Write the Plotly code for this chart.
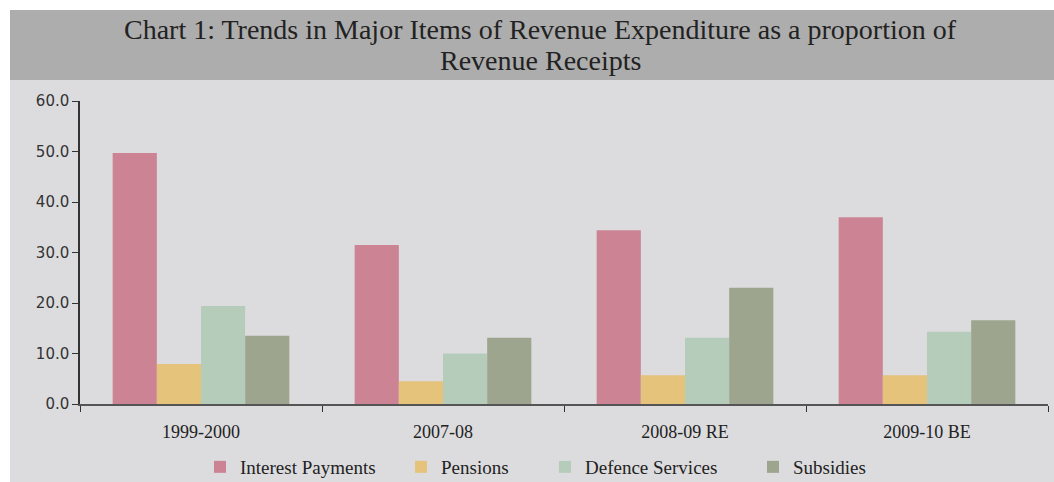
import plotly.graph_objects as go

categories = ["1999-2000", "2007-08", "2008-09 RE", "2009-10 BE"]
interest = [49.7, 31.5, 34.4, 37.0]
pensions = [7.9, 4.5, 5.7, 5.7]
defence = [19.4, 10.0, 13.1, 14.3]
subsidies = [13.5, 13.1, 23.0, 16.6]
series_names = ["Interest Payments", "Pensions", "Defence Services", "Subsidies"]
colors = ["#cc8494", "#e5c37b", "#b5ccbb", "#9ea58e"]
y_ticks = [0, 10, 20, 30, 40, 50, 60]
title_lines = ["Chart 1: Trends in Major Items of Revenue Expenditure as a proportion of",
               "Revenue Receipts"]

serif = "Liberation Serif, Times New Roman, serif"
sans = "DejaVu Sans, Verdana, sans-serif"

L, R, T, B = 80, 6, 101, 78
W, H = 1054, 482
pw = W - L - R
ph = H - T - B

def px(x):
    return (x - L) / pw

def py(y):
    return (H - B - y) / ph

legend_ids = ["legend", "legend2", "legend3", "legend4"]
legend_text_x = [240, 441, 585, 793]

fig = go.Figure()
for name, vals, c, lid in zip(series_names, [interest, pensions, defence, subsidies], colors, legend_ids):
    fig.add_trace(go.Bar(x=categories, y=vals, name=name, legend=lid, showlegend=True,
                         marker=dict(color=c, line=dict(width=0))))

shapes = [
    dict(type="rect", xref="paper", yref="paper", x0=px(10), x1=px(1060), y0=py(492), y1=py(10),
         fillcolor="#dcdcde", line=dict(width=0), layer="below"),
    dict(type="rect", xref="paper", yref="paper", x0=px(10), x1=px(1060), y0=py(80), y1=py(10),
         fillcolor="#adadad", line=dict(width=0), layer="below"),
]

annotations = [
    dict(text=title_lines[0], xref="paper", yref="paper", x=px(540), y=py(30),
         xanchor="center", yanchor="middle", showarrow=False,
         font=dict(family=serif, size=28, color="#222222")),
    dict(text=title_lines[1], xref="paper", yref="paper", x=px(540), y=py(61),
         xanchor="center", yanchor="middle", showarrow=False,
         font=dict(family=serif, size=28, color="#222222")),
]

legends = {}
for lid, tx in zip(legend_ids, legend_text_x):
    legends[lid] = dict(
        orientation="h", xref="container", yref="container",
        x=(tx - 40) / W, xanchor="left", y=1 - 467 / H, yanchor="middle",
        font=dict(family=serif, size=19, color="#222222"),
        bgcolor="rgba(0,0,0,0)", borderwidth=0,
    )

fig.update_layout(
    width=W, height=H, autosize=False, showlegend=True,
    margin=dict(l=L, r=R, t=T, b=B, autoexpand=False),
    paper_bgcolor="white",
    plot_bgcolor="rgba(0,0,0,0)",
    shapes=shapes,
    annotations=annotations,
    barmode="group",
    bargap=0.27,
    bargroupgap=0,
    xaxis=dict(
        type="category", automargin=False,
        showgrid=False, showline=True, linecolor="#555555", linewidth=2,
        ticks="outside", tickson="boundaries", ticklen=6, tickcolor="#333333",
        tickfont=dict(family=serif, size=18, color="#222222"),
        ticklabelstandoff=10,
    ),
    yaxis=dict(
        range=[0, 60], tickvals=y_ticks, tickformat=".1f", automargin=False,
        showgrid=False, showline=True, linecolor="#333333", linewidth=1.5,
        ticks="outside", ticklen=6, tickcolor="#333333",
        tickfont=dict(family=sans, size=15, color="#333333"),
        zeroline=False,
    ),
    **legends,
)

fig.write_html("out.html")
